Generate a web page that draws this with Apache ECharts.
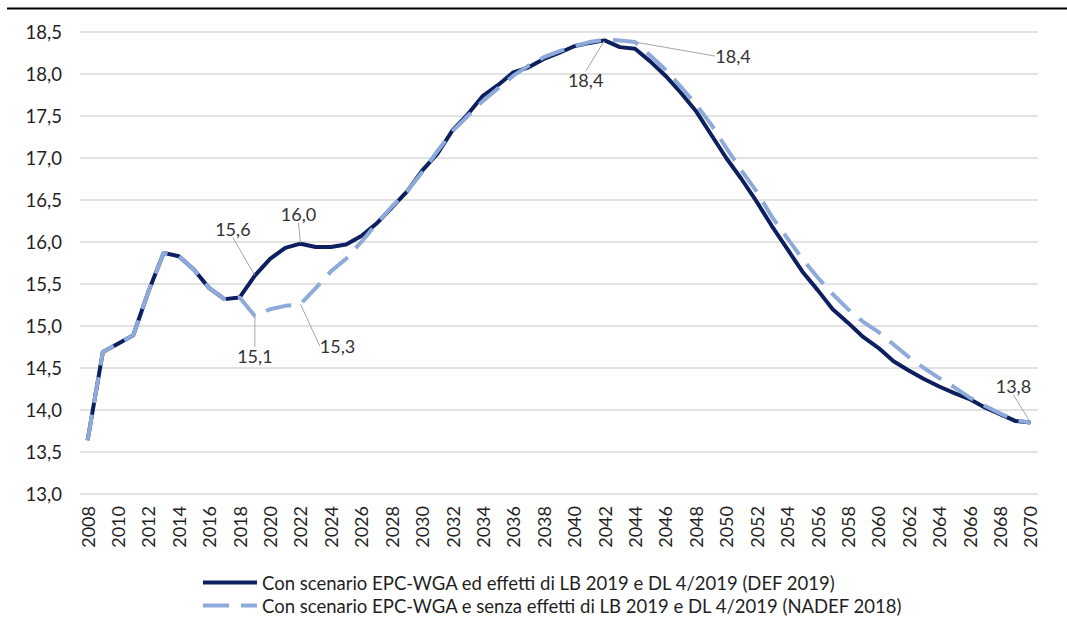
<!DOCTYPE html>
<html>
<head>
<meta charset="utf-8">
<script src="https://cdn.jsdelivr.net/npm/echarts@6/dist/echarts.min.js"></script>
<style>
  html, body { margin: 0; padding: 0; background: #fff; }
  #chart { width: 1067px; height: 635px; }
</style>
</head>
<body>
<div id="chart"></div>
<script>
var years = [];
for (var y = 2008; y <= 2070; y++) years.push(String(y));

// DEF 2019 – con effetti LB 2019 e DL 4/2019
var def2019 = [
  13.64, 14.69, 14.79, 14.89, 15.41, 15.87, 15.83, 15.67, 15.45, 15.32,
  15.34, 15.60, 15.80, 15.93, 15.98, 15.94, 15.94, 15.97, 16.07, 16.22,
  16.41, 16.60, 16.85, 17.05, 17.33, 17.52, 17.74, 17.87, 18.02, 18.08,
  18.18, 18.25, 18.33, 18.37, 18.40, 18.32, 18.30, 18.15, 17.98, 17.78,
  17.56, 17.28, 17.00, 16.75, 16.48, 16.19, 15.92, 15.65, 15.43, 15.20,
  15.04, 14.87, 14.74, 14.58, 14.47, 14.37, 14.28, 14.20, 14.13, 14.03,
  13.95, 13.87, 13.85
];

// NADEF 2018 – senza effetti LB 2019 e DL 4/2019
var nadef2018 = [
  13.64, 14.69, 14.79, 14.89, 15.41, 15.87, 15.83, 15.67, 15.45, 15.32,
  15.34, 15.12, 15.20, 15.24, 15.26, 15.45, 15.65, 15.80, 16.00, 16.22,
  16.42, 16.60, 16.83, 17.08, 17.32, 17.50, 17.68, 17.83, 17.98, 18.10,
  18.20, 18.27, 18.33, 18.38, 18.41, 18.40, 18.38, 18.22, 18.05, 17.85,
  17.64, 17.40, 17.12, 16.85, 16.60, 16.30, 16.05, 15.80, 15.58, 15.38,
  15.20, 15.05, 14.93, 14.78, 14.63, 14.50, 14.38, 14.27, 14.15, 14.05,
  13.96, 13.88, 13.85
];

var legendNames = [
  'Con scenario EPC-WGA ed effetti di LB 2019 e DL 4/2019 (DEF 2019)',
  'Con scenario EPC-WGA e senza effetti di LB 2019 e DL 4/2019 (NADEF 2018)'
];

// years carrying a value label, per series
var labelYearsDef = ['2019', '2022', '2042', '2070'];
var labelYearsNadef = ['2019', '2022', '2044'];

// label offsets from the point (px), keyed by series then year
var labelShift = {
  0: { '2019': [-22, -47], '2022': [-2, -30], '2042': [-19, 40], '2070': [-17, -37] },
  1: { '2019': [0, 40], '2022': [37, 42], '2044': [98, 14] }
};

function fmt(v) { return v.toFixed(1).replace('.', ','); }

function buildData(values, labelYears) {
  return values.map(function (v, i) {
    if (labelYears.indexOf(years[i]) >= 0) {
      // a tiny symbol is needed so the label has something to hang on
      return { value: v, symbol: 'circle', symbolSize: 1, label: { show: true } };
    }
    return v;
  });
}

var font = 'Lato, "Open Sans", sans-serif';
var chart = echarts.init(document.getElementById('chart'), null, { renderer: 'svg' });

var labelStyle = {
  show: false,
  position: 'inside',
  color: '#333',
  fontFamily: font,
  fontSize: 18,
  formatter: function (p) { return fmt(p.value); }
};

function shifter(idx) {
  return function (p) {
    var s = labelShift[idx][years[p.dataIndex]] || [0, 0];
    return { dx: s[0], dy: s[1] };
  };
}

chart.setOption({
  animation: false,
  backgroundColor: '#fff',
  graphic: [{
    type: 'line',
    shape: { x1: 7, y1: 8.5, x2: 1067, y2: 8.5 },
    style: { stroke: '#000', lineWidth: 2 }
  }],
  grid: { left: 80, right: 29, top: 32, bottom: 141, outerBoundsMode: 'none' },
  legend: {
    orient: 'vertical',
    left: 196,
    top: 568,
    itemGap: 4,
    itemWidth: 54,
    itemHeight: 10,
    itemStyle: { opacity: 0 },
    lineStyle: { width: 4 },
    textStyle: { color: '#1f1f1f', fontFamily: font, fontSize: 18.5 },
    data: legendNames
  },
  xAxis: {
    type: 'category',
    data: years,
    boundaryGap: true,
    axisLine: { show: false },
    axisTick: { show: false },
    axisLabel: {
      interval: 1,
      rotate: 90,
      color: '#1f1f1f',
      fontFamily: font,
      fontSize: 18,
      margin: 12
    }
  },
  yAxis: {
    type: 'value',
    min: 13,
    max: 18.5,
    interval: 0.5,
    axisLine: { show: false },
    axisTick: { show: false },
    axisLabel: {
      color: '#1f1f1f',
      fontFamily: font,
      fontSize: 18.5,
      margin: 18,
      formatter: fmt
    },
    splitLine: { lineStyle: { color: '#d9d9d9', width: 1.5 } }
  },
  series: [
    {
      name: legendNames[0],
      type: 'line',
      data: buildData(def2019, labelYearsDef),
      symbol: 'none',
      showAllSymbol: true,
      lineStyle: { color: '#0d1f5e', width: 4 },
      itemStyle: { color: '#0d1f5e' },
      label: labelStyle,
      labelLine: { show: true, lineStyle: { color: '#a6a6a6', width: 1 } },
      labelLayout: shifter(0),
      z: 2
    },
    {
      name: legendNames[1],
      type: 'line',
      data: buildData(nadef2018, labelYearsNadef),
      symbol: 'none',
      showAllSymbol: true,
      lineStyle: { color: '#8eaadb', width: 4, type: [26, 12] },
      itemStyle: { color: '#8eaadb' },
      label: labelStyle,
      labelLine: { show: true, lineStyle: { color: '#a6a6a6', width: 1 } },
      labelLayout: shifter(1),
      z: 3
    }
  ]
});
window.addEventListener('resize', function () { chart.resize(); });
</script>
</body>
</html>
